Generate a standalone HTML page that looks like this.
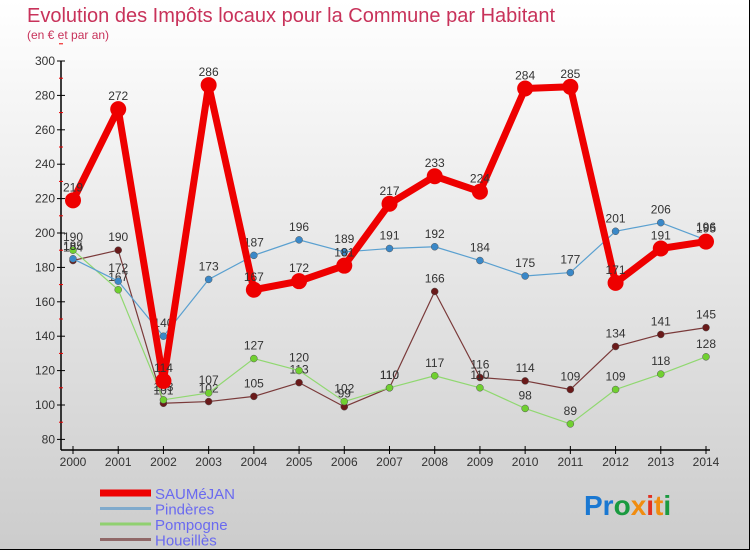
<!DOCTYPE html>
<html><head><meta charset="utf-8"><style>
body{margin:0;width:750px;height:550px;overflow:hidden;font-family:"Liberation Sans",sans-serif}
</style></head><body>
<svg id="c" width="750" height="550" xmlns="http://www.w3.org/2000/svg">
<defs><linearGradient id="bg" x1="0" y1="0" x2="0" y2="1"><stop offset="0" stop-color="#ffffff"/><stop offset="1" stop-color="#cccccc"/></linearGradient></defs>
<rect width="750" height="550" fill="url(#bg)"/>
<line x1="749.5" y1="0" x2="749.5" y2="550" stroke="#000" stroke-width="1"/>
<line x1="0" y1="549.5" x2="750" y2="549.5" stroke="#000" stroke-width="1"/>
<text x="27" y="22" font-size="20" fill="#c8325a">Evolution des Impôts locaux pour la Commune par Habitant</text>
<text x="27" y="39" font-size="12" fill="#c8325a">(en € et par an)</text>
<g id="axes"></g><g id="series"></g><g id="legend"></g>
<text x="584" y="515" font-size="28" font-weight="bold"><tspan fill="#1a78d2">Pr</tspan><tspan fill="#1a9a40">o</tspan><tspan fill="#f08c10">x</tspan><tspan fill="#e23020">i</tspan><tspan fill="#f08c10">t</tspan><tspan fill="#1a9a40">i</tspan></text>
</svg>
<script>
const years=[2000,2001,2002,2003,2004,2005,2006,2007,2008,2009,2010,2011,2012,2013,2014];
const yTicks=[80,100,120,140,160,180,200,220,240,260,280,300];
const saumejan=[219,272,114,286,167,172,181,217,233,224,284,285,171,191,195];
const pinderes=[185,172,140,173,187,196,189,191,192,184,175,177,201,206,196];
const pompogne=[190,167,103,107,127,120,102,110,117,110,98,89,109,118,128];
const houeilles=[184,190,101,102,105,113,99,110,166,116,114,109,134,141,145];
const NS="http://www.w3.org/2000/svg";
const X=i=>73+i*(706-73)/(years.length-1);
const Y=v=>405-(v-100)*1.72;
function mk(t,a,p){const e=document.createElementNS(NS,t);for(const k in a)e.setAttribute(k,a[k]);p.appendChild(e);return e;}
const ax=document.getElementById('axes');
const yl=mk('line',{x1:61,y1:Y(300),x2:61,y2:450,stroke:'#000','stroke-width':1.5},ax);


const xl=mk('line',{x1:61,y1:450,x2:710,y2:450,stroke:'#000','stroke-width':1.5},ax);


yTicks.forEach(v=>{
 mk('line',{x1:57,x2:65,y1:Y(v),y2:Y(v),stroke:'#000'},ax);
 mk('line',{x1:59,x2:63,y1:Y(v+10),y2:Y(v+10),stroke:'#e00'},ax);
 const t=mk('text',{x:55,y:Y(v)+4,'font-size':12,'text-anchor':'end',fill:'#333'},ax);t.textContent=v;
 
 
});
years.forEach((y,i)=>{
 mk('line',{x1:X(i),x2:X(i),y1:446,y2:454,stroke:'#000'},ax);
 const t=mk('text',{x:X(i),y:466,'font-size':12,'text-anchor':'middle',fill:'#333'},ax);t.textContent=y;
 
 
});
const sg=document.getElementById('series');
function series(vals,color,dot,w,r,name){
 const g=mk('g',{},sg);
 
 
 const p=mk('polyline',{points:vals.map((v,i)=>X(i)+','+Y(v)).join(' '),fill:'none',stroke:color,'stroke-width':w,'stroke-linejoin':'round'},g);
 
 
 vals.forEach((v,i)=>{
  const c=mk('circle',{cx:X(i),cy:Y(v),r:r,fill:dot,stroke:w>3?'none':'#555','stroke-width':0.5},g);
  
  
  const t=mk('text',{x:X(i),y:Y(v)-9,'font-size':12,'text-anchor':'middle',fill:'#333'},g);t.textContent=v;
  
  
 });
}
series(houeilles,'#7a3a3a','#6a1a1a',1.2,3.5,'houeilles');
series(pompogne,'#90d870','#70d030',1.2,3.5,'pompogne');
series(pinderes,'#5aa0d0','#3a88c8',1.2,3.5,'pinderes');
series(saumejan,'#ee0000','#ee0000',7,8,'saumejan');
const lg=document.getElementById('legend');
[['SAUMéJAN','#ee0000',7],['Pindères','#80aacc',3],['Pompogne','#90d070',3],['Houeillès','#906868',3]].forEach((d,i)=>{
 const y=493+i*15.5;
 const g=mk('g',{},lg);
 
 
 mk('line',{x1:100,x2:151,y1:y,y2:y,stroke:d[1],'stroke-width':d[2]},g);
 const t=mk('text',{x:155,y:y+6,'font-size':15,fill:'#6a6af0'},g);t.textContent=d[0];
});
</script>
</body></html>
